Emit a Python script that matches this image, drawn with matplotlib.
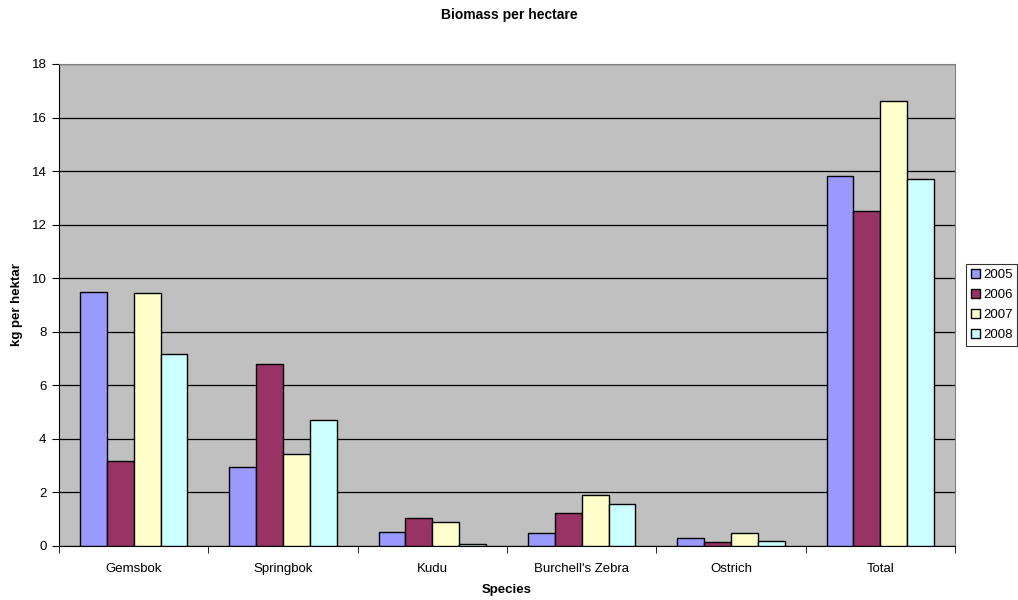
import matplotlib
matplotlib.use("Agg")
import matplotlib.pyplot as plt
import numpy as np

plt.rcParams['font.family'] = ['Liberation Sans', 'DejaVu Sans']

categories = ["Gemsbok", "Springbok", "Kudu", "Burchell's Zebra", "Ostrich", "Total"]
years = ["2005", "2006", "2007", "2008"]
v2005 = [9.50, 2.94, 0.52, 0.50, 0.29, 13.82]
v2006 = [3.17, 6.80, 1.03, 1.24, 0.15, 12.52]
v2007 = [9.44, 3.45, 0.88, 1.90, 0.47, 16.62]
v2008 = [7.16, 4.72, 0.06, 1.57, 0.17, 13.72]
series = [v2005, v2006, v2007, v2008]
colors = ["#9999FF", "#993366", "#FFFFCC", "#CCFFFF"]

fig = plt.figure(figsize=(10.18, 6.0), dpi=100)
ax = fig.add_axes([59/1018, 54/600, (955-59)/1018, (546-64)/600])
ax.set_facecolor("#C0C0C0")

x = np.arange(len(categories))
bw = 0.18
for i, (vals, c, lab) in enumerate(zip(series, colors, years)):
    ax.bar(x + (i - 1.5) * bw, vals, bw, color=c, edgecolor="black", linewidth=1.0, label=lab, zorder=3)

ax.set_xlim(-0.5, len(categories) - 0.5)
ax.set_ylim(0, 18)
ax.set_yticks(np.arange(0, 19, 2))
ax.yaxis.grid(True, color="black", linewidth=0.9, zorder=0)
ax.set_axisbelow(True)

ax.set_xticks(x)
ax.set_xticklabels(categories, fontsize=9.5)
ax.tick_params(axis='x', length=0, pad=12)
ax.set_xticks(np.arange(-0.5, len(categories), 1), minor=True)
ax.tick_params(axis='x', which='minor', length=5, direction='out', color='black')
ax.tick_params(axis='y', labelsize=9.5, length=5, direction='out', pad=4)

for s in ['top', 'right']:
    ax.spines[s].set_color('#808080')
for s in ['left', 'bottom']:
    ax.spines[s].set_color('black')

ax.set_xlabel("Species", fontsize=9.5, fontweight='bold')
ax.xaxis.set_label_coords(0.5, (546 - 584) / 482)
ax.set_ylabel("kg per hektar", fontsize=9.5, fontweight='bold')
ax.yaxis.set_label_coords((23 - 59) / 896, 0.5)
fig.text(0.5, 0.975, "Biomass per hectare", ha='center', va='center', fontsize=10, fontweight='bold')

leg = ax.legend(loc='center left', frameon=True, fancybox=False, edgecolor='black', fontsize=9.5,
                handlelength=0.7, handleheight=0.7, handletextpad=0.25, borderpad=0.35,
                labelspacing=0.6, borderaxespad=0)
leg.set_bbox_to_anchor((966/1018, (600-305)/600), transform=fig.transFigure)
leg.get_frame().set_linewidth(0.8)

fig.savefig("out.png", dpi=100)
